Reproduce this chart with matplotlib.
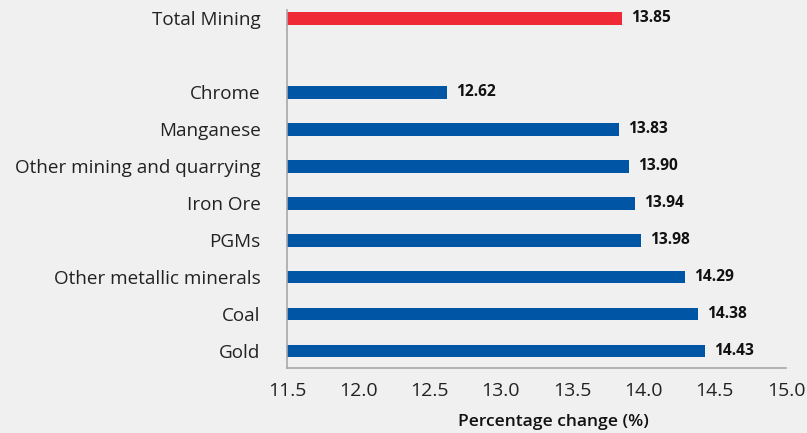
import matplotlib.pyplot as plt

categories = ['Gold', 'Coal', 'Other metallic minerals', 'PGMs', 'Iron Ore',
              'Other mining and quarrying', 'Manganese', 'Chrome', '', 'Total Mining']
values = [14.43, 14.38, 14.29, 13.98, 13.94, 13.90, 13.83, 12.62, None, 13.85]
colors = ['#0055a5'] * 9 + ['#f02937']
xticks = [11.5, 12.0, 12.5, 13.0, 13.5, 14.0, 14.5, 15.0]

plt.rcParams['font.family'] = ['Open Sans', 'DejaVu Sans']

fig = plt.figure(figsize=(8.07, 4.33), dpi=100, facecolor='#f0f0f0')
ax = fig.add_axes([287/807, 1-368/433, (786-287)/807, (368-10)/433])
ax.set_facecolor('#f0f0f0')

base = 11.5
for i, v in enumerate(values):
    if v is None:
        continue
    ax.barh(i, v - base, left=base, height=0.35, color=colors[i])
    ax.text(v + 0.065, i, f'{v:.2f}', va='center', ha='left',
            fontsize=11.2, fontweight='bold', color='#111111')

ax.set_xlim(11.5, 15.0)
ax.set_ylim(-0.46, 9.22)
ax.set_xticks(xticks)
ax.set_xticklabels([f'{t:.1f}' for t in xticks], fontsize=14, color='#222222')
ax.set_yticks(range(len(categories)))
ax.set_yticklabels(categories, fontsize=13.6, color='#222222')
ax.tick_params(axis='both', length=0)
ax.tick_params(axis='x', pad=10)
ax.tick_params(axis='y', pad=19)
ax.set_xlabel('Percentage change (%)', fontsize=12.6, fontweight='semibold',
              color='#111111')
ax.xaxis.set_label_coords(0.533, -0.128)

for s in ['top', 'right']:
    ax.spines[s].set_visible(False)
ax.spines['left'].set_color('#a8a8a8')
ax.spines['bottom'].set_color('#a8a8a8')
ax.spines['left'].set_linewidth(1.2)
ax.spines['bottom'].set_linewidth(1.2)

fig.savefig('out.png', dpi=100, facecolor=fig.get_facecolor())
